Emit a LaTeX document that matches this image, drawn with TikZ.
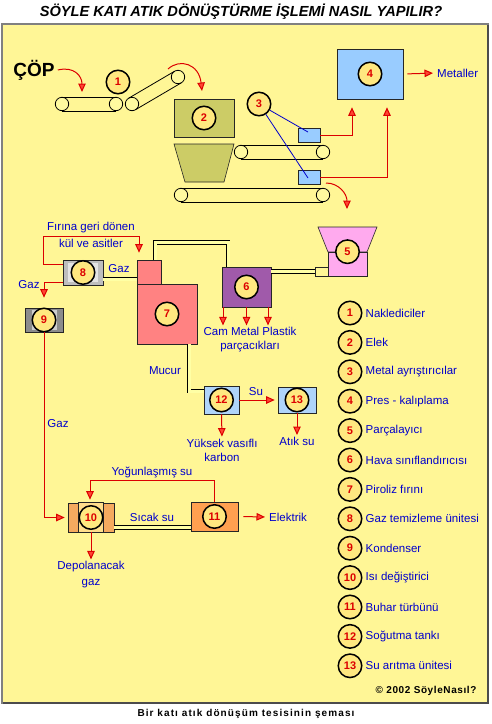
\documentclass[tikz,border=0pt]{standalone}
\usepackage{fontspec}
\setmainfont{Liberation Sans}
\usetikzlibrary{arrows.meta,calc}

\definecolor{panel}{RGB}{255,246,150}
\definecolor{textblue}{RGB}{0,0,204}
\definecolor{numfill}{RGB}{255,232,128}
\definecolor{numred}{RGB}{220,0,0}
\definecolor{arrred}{RGB}{220,0,0}
\definecolor{arrfill}{RGB}{255,70,50}
\definecolor{olive}{RGB}{204,204,102}
\definecolor{boxblue}{RGB}{153,204,255}
\definecolor{pinkbox}{RGB}{255,170,238}
\definecolor{purplebox}{RGB}{160,90,170}
\definecolor{salmonbox}{RGB}{255,130,130}
\definecolor{grayA}{RGB}{190,190,190}
\definecolor{grayAin}{RGB}{228,228,228}
\definecolor{grayB}{RGB}{140,140,140}
\definecolor{grayBin}{RGB}{205,205,205}
\definecolor{orangeA}{RGB}{245,170,95}
\definecolor{orangeAin}{RGB}{255,222,140}
\definecolor{orangeB}{RGB}{255,160,80}
\definecolor{lightblue}{RGB}{175,212,250}
\definecolor{rollfill}{RGB}{255,250,160}
\definecolor{pipeyellow}{RGB}{255,255,165}

\begin{document}
\begin{tikzpicture}[x=1pt,y=-1pt,
    box/.style={draw=black!85, line width=0.6pt, inner sep=0pt},
    num/.style={circle, draw=black, line width=1.5pt, fill=numfill, minimum size=23.5pt,
        inner sep=0pt, text=numred, font=\bfseries\fontsize{11}{11}\selectfont},
    roller/.style={circle, draw=black, line width=0.8pt, fill=rollfill, minimum size=13.4pt, inner sep=0pt},
    belt/.style={draw=black, line width=0.8pt},
    pipe/.style={draw=black, line width=0.8pt, double=pipeyellow, double distance=3pt},
    arr/.style={draw=arrred, line width=1pt, -{Triangle[length=8.5pt,width=7.5pt,fill=arrfill]}, shorten >=3pt},
    lbl/.style={text=textblue, font=\fontsize{11.5}{14}\selectfont, align=center, inner sep=1pt},
    magline/.style={draw=textblue, line width=0.8pt}]

    % --- Proportions ---
    \def\rr{6.7}     % roller radius
    \def\legstep{29.4} % legend spacing

    \useasboundingbox (0,0) rectangle (492,724);
    \fill[white] (0,0) rectangle (492,724);

    % --- Panel and titles ---
    \filldraw[fill=panel, draw=gray, line width=1.5pt] (2,24) rectangle (488,703);
    \draw[black!70, line width=1.5pt] (488,25) -- (488,703) -- (3,703);
    \node[font=\bfseries\itshape\fontsize{14.6}{16}\selectfont] (title) at (241,12)
        {SÖYLE KATI ATIK DÖNÜŞTÜRME İŞLEMİ NASIL YAPILIR?};
    \node[font=\bfseries\fontsize{10}{12}\selectfont\addfontfeatures{LetterSpace=11}] (caption) at (246,714)
        {Bir katı atık dönüşüm tesisinin şeması};
    \node[font=\bfseries\fontsize{10}{12}\selectfont\addfontfeatures{LetterSpace=6}, anchor=east] (copy) at (480,691)
        {© 2002 SöyleNasıl?};
    \node[font=\bfseries\fontsize{19}{20}\selectfont, inner sep=0pt] (cop) at (34,70) {ÇÖP};

    % --- Conveyors ---
    \node[roller] (r1a) at (62,104) {};
    \node[roller] (r1b) at (116,104) {};
    \node[roller] (r2a) at (132,104) {};
    \node[roller] (r2b) at (178,77) {};
    \node[roller] (r3a) at (241,152) {};
    \node[roller] (r3b) at (323,152) {};
    \node[roller] (r4a) at (181,195) {};
    \node[roller] (r4b) at (323,195) {};
    \foreach \a/\b in {r1a/r1b, r3a/r3b, r4a/r4b}
        \draw[belt] (\a.north) -- (\b.north) (\a.south) -- (\b.south);
    \draw[belt] ($(r2a.center)!\rr pt!90:(r2b.center)$) -- ($(r2b.center)!\rr pt!-90:(r2a.center)$);
    \draw[belt] ($(r2a.center)!\rr pt!-90:(r2b.center)$) -- ($(r2b.center)!\rr pt!90:(r2a.center)$);

    % --- Machines ---
    \node[box, fill=olive, minimum width=60pt, minimum height=38pt] (b2) at (204,118) {};
    \filldraw[fill=olive, draw=black!85, line width=0.6pt] (174,144) -- (234,144) -- (224,182) -- (185,182) -- cycle;
    \node[box, fill=boxblue, minimum width=22pt, minimum height=14pt] (sA) at (309,135) {};
    \node[box, fill=boxblue, minimum width=22pt, minimum height=14pt] (sB) at (309,177) {};
    \node[box, fill=boxblue, minimum width=66pt, minimum height=50pt] (b4) at (370,74) {};
    \filldraw[fill=pinkbox, draw=black!85, line width=0.6pt] (318,227) -- (377,227) -- (367,252) -- (328,252) -- cycle;
    \node[box, fill=pinkbox, minimum width=39pt, minimum height=24pt] (b5) at (347.5,264) {};
    \node[box, fill=panel, minimum width=13pt, minimum height=9pt] (s5) at (321.5,271.5) {};
    \node[box, fill=purplebox, minimum width=49pt, minimum height=40pt] (b6) at (246.5,287) {};
    \node[box, fill=salmonbox, minimum width=24pt, minimum height=24pt] (t7) at (149,272) {};
    \node[box, fill=salmonbox, minimum width=60pt, minimum height=60pt] (b7) at (167,314) {};
    \node[box, fill=grayA, minimum width=40pt, minimum height=25pt] (b8) at (83,272.5) {};
    \fill[grayAin] ([xshift=5pt,yshift=-3pt]b8.north west) rectangle ([xshift=-5pt,yshift=3pt]b8.south east);
    \node[box, fill=grayB, minimum width=38pt, minimum height=24pt] (b9) at (44,320) {};
    \fill[grayBin] ([xshift=7pt,yshift=-2pt]b9.north west) rectangle ([xshift=-6pt,yshift=2pt]b9.south east);
    \node[box, fill=orangeA, minimum width=46pt, minimum height=29pt] (b10) at (91,517.5) {};
    \filldraw[fill=orangeAin, draw=black!85, line width=0.6pt] ([xshift=11pt]b10.north west) rectangle ([xshift=-11pt]b10.south east);
    \node[box, fill=orangeB, minimum width=47pt, minimum height=29pt] (b11) at (214.5,516.5) {};
    \node[box, fill=lightblue, minimum width=35pt, minimum height=28pt] (b12) at (221.5,400) {};
    \node[box, fill=lightblue, minimum width=38pt, minimum height=26pt] (b13) at (297,400) {};

    % --- Pipes ---
    \coordinate (g8) at ([yshift=-6.5pt]b8.east);
    \draw[pipe] (g8) -- (g8 -| t7.west);
    \draw[pipe] ([xshift=6pt]t7.north) -- ++(0,-17) -| ([xshift=-18.5pt]b6.north);
    \draw[pipe] (b6.east |- s5.west) -- (s5.west);
    \coordinate (m7) at ([xshift=22pt]b7.south);
    \draw[pipe] (m7) |- ([yshift=9pt]b12.west);
    \coordinate (p10) at ([yshift=-10pt]b10.east);
    \draw[pipe] (p10) -- (p10 -| b11.west);

    % --- Number circles ---
    \node[num] (c1) at (118,82) {1};
    \node[num] (c2) at (b2) {2};
    \node[num] (c3) at (259,104) {3};
    \node[num] (c4) at (b4) {4};
    \node[num] (c5) at (b5.north) {5};
    \node[num] (c6) at (b6) {6};
    \node[num] (c7) at (b7) {7};
    \node[num] (c8) at (b8) {8};
    \node[num] (c9) at (b9) {9};
    \node[num] (c10) at (b10) {10};
    \node[num] (c11) at (b11) {11};
    \node[num] (c12) at (b12) {12};
    \node[num] (c13) at (b13) {13};

    % --- Labels ---
    \node[lbl, anchor=west] (met) at (436,73) {Metaller};
    \node[lbl, font=\fontsize{11.5}{17}\selectfont] (ret) at (91,235) {Fırına geri dönen\\kül ve asitler};
    \node[lbl] (gaz1) at (119,269) {Gaz};
    \node[lbl] (gaz2) at (29,285) {Gaz};
    \node[lbl] (gaz3) at (58,424) {Gaz};
    \node[lbl] (cmp) at (250,340) {Cam Metal Plastik\\parçacıkları};
    \node[lbl] (mucur) at (165,371) {Mucur};
    \node[lbl] (su) at (256,392) {Su};
    \node[lbl] (karbon) at (222,450) {Yüksek vasıflı\\karbon};
    \node[lbl, anchor=north] (atik) at (297,436) {Atık su};
    \node[lbl] (yog) at (152,472) {Yoğunlaşmış su};
    \node[lbl] (sicak) at (152,517) {Sıcak su};
    \node[lbl, anchor=west] (elek) at (268,517) {Elektrik};
    \node[lbl, font=\fontsize{11.5}{16}\selectfont] (depo) at (91,575) {Depolanacak\\gaz};

    % --- Metal separators ---
    \draw[magline] (c3) -- ([xshift=-1pt,yshift=3pt]sA.center);
    \draw[magline] (c3) -- ([xshift=-1pt,yshift=-1pt]sB.center);
    \draw[arr, shorten >=8pt] (sA.east) -| ([xshift=-18pt]b4.south);
    \draw[arr, shorten >=8pt] (sB.east) -| ([xshift=17pt]b4.south);
    \draw[arr, shorten <=4pt] (b4.east) -- (met.west);

    % --- Curved feed arrows ---
    \coordinate (k1) at (82,92);
    \coordinate (k2s) at (168,69);
    \coordinate (k2) at (202,91);
    \coordinate (k3s) at (326,183);
    \coordinate (k3) at (347,209);
    \draw[arr, shorten >=0pt] ([xshift=3pt]cop.east) .. controls (74,66) and (82,76) .. (k1);
    \draw[arr, shorten >=0pt] (k2s) .. controls (180,58) and (199,64) .. (k2);
    \draw[arr, shorten >=0pt] (k3s) .. controls (339,183) and (347,194) .. (k3);

    % --- Process flow ---
    \draw[arr, shorten >=7pt] ([yshift=8.5pt]b8.west) -| ++(-19,-28) -| ([xshift=-10pt]t7.north);
    \draw[arr, shorten >=10pt] ([yshift=-9.5pt]b8.west) -| (b9.north);
    \draw[arr] (b9.south) |- (b10.west);
    \draw[arr] (b11.north) -- ++(0,-21) -| ([xshift=-1pt]b10.north);
    \draw[arr, shorten <=5pt] (b11.east) -- (elek.west);
    \draw[arr, shorten >=1pt] (b10.south) -- (depo.north);
    \draw[arr] (b12.east) -- (b13.west);
    \draw[arr, shorten >=1pt] (b12.south) -- (karbon.north);
    \draw[arr, shorten >=1pt] (b13.south) -- (atik.north);
    \foreach \dx [count=\i] in {-23.5,0,21.5} {
        \coordinate (o\i) at ([xshift=\dx pt]b6.south);
        \draw[arr, shorten >=1pt] (o\i) -- (o\i |- cmp.north);
    }

    % --- Legend ---
    \foreach \i/\txt [count=\k from 0] in {1/Nakledici{}ler, 2/Elek, 3/Metal ayrıştırıcılar,
        4/Pres - kalıplama, 5/Parçalayıcı, 6/Hava sınıflandırıcısı, 7/Piroliz fırını,
        8/Gaz temizleme ünitesi, 9/Kondenser, 10/Isı değiştirici, 11/Buhar türbünü,
        12/Soğutma tankı, 13/Su arıtma ünitesi} {
        \node[num] (leg\i) at (350,{313+\legstep*\k}) {\i};
        \node[lbl, anchor=west, inner sep=3pt] (legt\i) at (leg\i.east) {\txt};
    }

\end{tikzpicture}
\end{document}
